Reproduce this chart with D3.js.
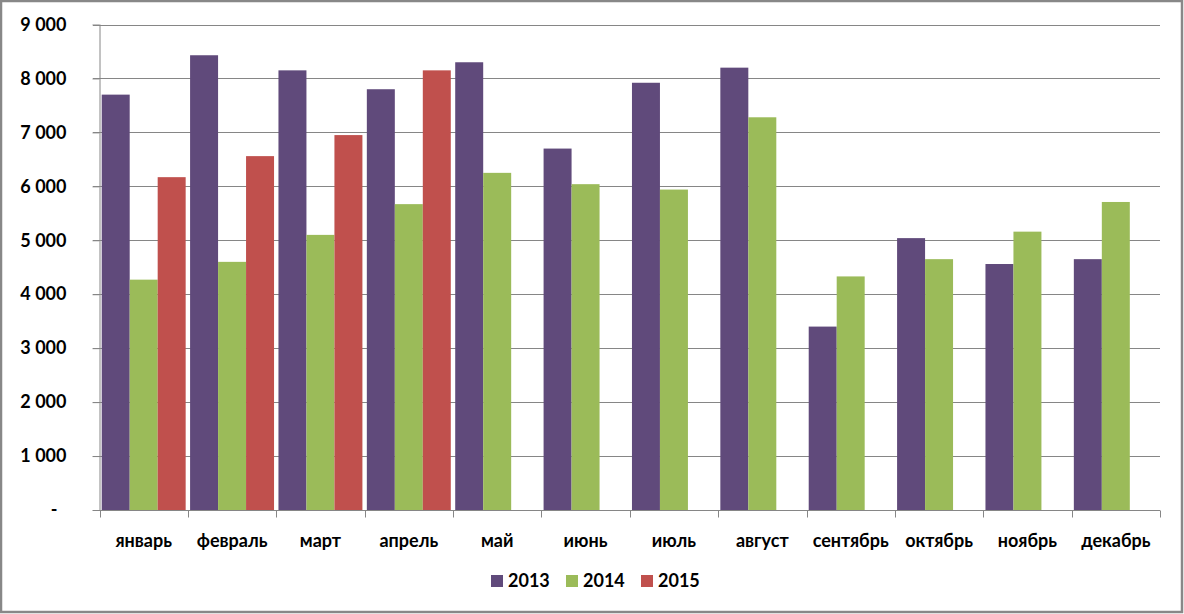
<!DOCTYPE html>
<html><head><meta charset="utf-8">
<script src="https://cdn.jsdelivr.net/npm/d3@7"></script>
<style>body{margin:0;background:#fff}svg{display:block}text{font-family:Lato,"Open Sans",sans-serif;font-weight:bold;fill:#000}</style>
</head><body>
<svg id="c" width="1184" height="614"></svg>
<script>
const months = ["январь","февраль","март","апрель","май","июнь","июль","август","сентябрь","октябрь","ноябрь","декабрь"];
const seriesNames = ["2013","2014","2015"];
const colors = ["#604A7B","#9BBB59","#C0504D"];
const v2013 = [7700,8430,8150,7800,8300,6700,7920,8200,3400,5040,4560,4650];
const v2014 = [4270,4600,5100,5670,6250,6040,5940,7280,4330,4650,5160,5710];
const v2015 = [6170,6560,6950,8150,null,null,null,null,null,null,null,null];
const yTicks = [0,1000,2000,3000,4000,5000,6000,7000,8000,9000];

const svg = d3.select("#c");
svg.append("rect").attr("x",1).attr("y",1).attr("width",1181).attr("height",611)
  .attr("fill","#fff").attr("stroke","#888").attr("stroke-width",2.5);

const L=99.5, R=1160, T=24.5, B=510;
const x = d3.scaleBand().domain(months).range([L,R]).paddingInner(0.05).paddingOuter(0.025);
const y = d3.scaleLinear().domain([0,9000]).range([B,T]);
const xs = d3.scaleBand().domain(seriesNames).range([0,x.bandwidth()]);

const fmt = v => v===0 ? "-" : d3.format(",")(v).replace(",", " ");

// gridlines
svg.append("g").selectAll("line").data(yTicks.filter(d=>d>0)).join("line")
  .attr("x1",93).attr("x2",R).attr("y1",d=>Math.round(y(d))+0.5).attr("y2",d=>Math.round(y(d))+0.5)
  .attr("stroke","#868686").attr("stroke-width",1);

const data = [v2013,v2014,v2015];
data.forEach((arr,si)=>{
  svg.append("g").selectAll("rect").data(months.map((m,i)=>({m,v:arr[i]})).filter(d=>d.v!=null)).join("rect")
    .attr("x",d=>x(d.m)+xs(seriesNames[si]))
    .attr("width",xs.bandwidth())
    .attr("y",d=>y(d.v))
    .attr("height",d=>B-y(d.v))
    .attr("fill",colors[si]);
});

// y axis
const ya = svg.append("g").attr("transform",`translate(${L},0)`)
  .call(d3.axisLeft(y).tickValues(yTicks).tickFormat(fmt).tickSize(7).tickPadding(26));
ya.select(".domain").attr("stroke","#868686").attr("d",`M0.5,${T}V${B}`);
ya.selectAll(".tick line").attr("stroke","#868686");
ya.selectAll("text").style("font-size","18px").style("font-family","Lato").style("font-weight","bold");
ya.selectAll(".tick").filter(d=>d===0).select("text").attr("dx",-9);

// x axis
const xa = svg.append("g").attr("transform",`translate(0,${B+0.5})`);
xa.append("line").attr("x1",93).attr("x2",R).attr("stroke","#868686");
const bounds = d3.range(months.length+1).map(i=>L + i*(R-L)/months.length);
xa.selectAll("line.t").data(bounds).join("line").attr("class","t")
  .attr("x1",d=>Math.round(d)+0.5).attr("x2",d=>Math.round(d)+0.5).attr("y1",0).attr("y2",7).attr("stroke","#868686");
xa.selectAll("text").data(months).join("text")
  .attr("x",d=>x(d)+x.bandwidth()/2).attr("y",36).attr("text-anchor","middle")
  .style("font-size","18px").text(d=>d);

// legend
const lg = svg.append("g");
const lx = [491,566,641];
seriesNames.forEach((s,i)=>{
  lg.append("rect").attr("x",lx[i]).attr("y",575).attr("width",12).attr("height",12).attr("fill",colors[i]);
  lg.append("text").attr("x",lx[i]+17).attr("y",587).style("font-size","18px").text(s);
});
</script>
</body></html>
